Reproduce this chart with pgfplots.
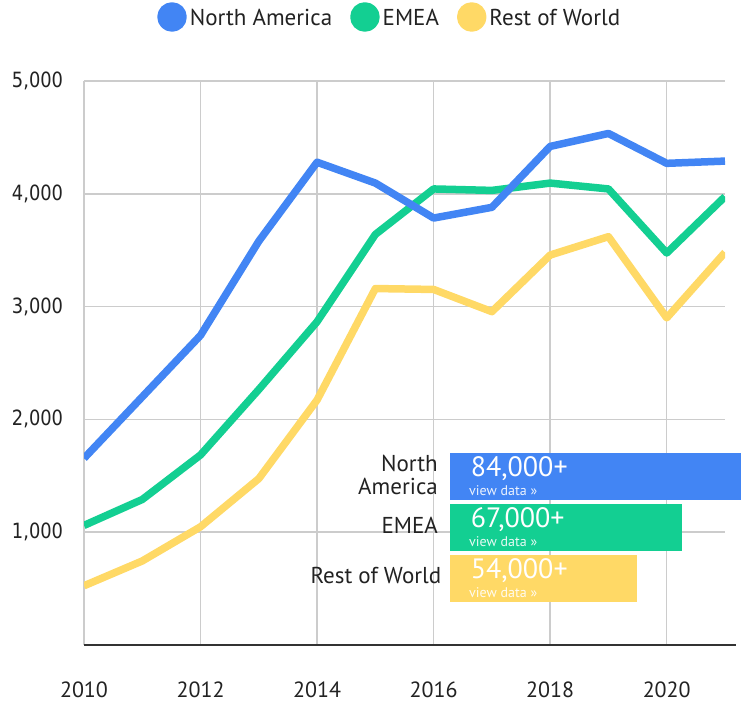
\documentclass[border=0pt]{standalone}
\usepackage{fontspec}
\usepackage{pgfplots}
\pgfplotsset{compat=1.18}
\setmainfont{PT Sans}
\newfontfamily\yfont[FakeStretch=0.85]{DejaVu Sans}
\definecolor{cNA}{HTML}{4285F4}
\definecolor{cEM}{HTML}{13CF92}
\definecolor{cRW}{HTML}{FFD966}
\definecolor{gridc}{HTML}{CCCCCC}
\definecolor{txt}{HTML}{222222}
\definecolor{basec}{HTML}{333333}

\begin{document}
\begin{tikzpicture}
\useasboundingbox (0,0) rectangle (741pt,703pt);
\begin{axis}[
  at={(84pt,58pt)}, anchor=south west,
  scale only axis, width=641pt, height=564pt,
  xmin=2010, xmax=2021, ymin=0, ymax=5000,
  xtick={2010,2012,...,2020}, ytick={1000,2000,3000,4000,5000},
  axis lines*=left,
  y axis line style={draw=none},
  x axis line style={draw=basec, line width=2pt, shorten >=-11pt},
  major tick length=0pt,
  grid=major,
  major grid style={gridc, line width=1.5pt},
  /pgf/number format/assume math mode=true,
  /pgf/number format/1000 sep={,},
  yticklabel style={font=\yfont\fontsize{21pt}{25pt}\selectfont, text=txt, inner sep=0pt, xshift=-20.7pt},
  xticklabel style={font=\fontsize{22pt}{26pt}\selectfont, text=txt, inner sep=0pt, yshift=-37pt, /pgf/number format/1000 sep={}},
  every axis plot/.append style={line width=7.5pt, line join=round},
  legend columns=-1,
  reverse legend,
  legend image code/.code={\fill[#1] (11pt,1pt) circle (11pt);},
  legend style={at={(0.114,1.1135)}, anchor=west, draw=none, fill=none, inner sep=0pt,
    font=\fontsize{23pt}{27pt}\selectfont, text=txt,
    /tikz/every even column/.append style={column sep=18pt},
    nodes={inner sep=0pt}},
]
\addplot[cRW] coordinates {(2010,525) (2011,745) (2012,1048) (2013,1475) (2014,2172) (2015,3160) (2016,3152) (2017,2955) (2018,3457) (2019,3620) (2020,2900) (2021,3480)};
\addlegendentry{\hspace{3pt}Rest of World}
\addplot[cEM] coordinates {(2010,1060) (2011,1290) (2012,1685) (2013,2265) (2014,2866) (2015,3640) (2016,4043) (2017,4030) (2018,4095) (2019,4043) (2020,3475) (2021,3975)};
\addlegendentry{\hspace{3pt}EMEA}
\addplot[cNA] coordinates {(2010,1655) (2011,2200) (2012,2745) (2013,3580) (2014,4280) (2015,4095) (2016,3785) (2017,3880) (2018,4420) (2019,4535) (2020,4270) (2021,4290)};
\addlegendentry{\hspace{3pt}North America}
\end{axis}

\begin{axis}[
  at={(450pt,99pt)}, anchor=south west,
  scale only axis, width=291pt, height=153pt,
  xmin=0, xmax=84000, ymin=-0.5, ymax=2.5,
  hide axis, clip=false,
  xbar, bar width=47pt, bar shift=0pt,
]
\addplot[fill=cNA, draw=none] coordinates {(84000,2)};
\addplot[fill=cEM, draw=none] coordinates {(67000,1)};
\addplot[fill=cRW, draw=none] coordinates {(54000,0)};

\node[anchor=base west, text=white, font=\fontsize{28pt}{30pt}\selectfont, inner sep=0pt, xshift=20.7pt, yshift=-0.4pt] at (axis cs:0,2) {84,000+};
\node[anchor=base west, text=white, font=\fontsize{28pt}{30pt}\selectfont, inner sep=0pt, xshift=20.7pt, yshift=-0.4pt] at (axis cs:0,1) {67,000+};
\node[anchor=base west, text=white, font=\fontsize{28pt}{30pt}\selectfont, inner sep=0pt, xshift=20.7pt, yshift=-0.4pt] at (axis cs:0,0) {54,000+};
\node[anchor=base west, text=white, opacity=0.9, font=\fontsize{14pt}{16pt}\selectfont, inner sep=0pt, xshift=19pt, yshift=-19.4pt] at (axis cs:0,2) {view data »};
\node[anchor=base west, text=white, opacity=0.9, font=\fontsize{14pt}{16pt}\selectfont, inner sep=0pt, xshift=19pt, yshift=-19.4pt] at (axis cs:0,1) {view data »};
\node[anchor=base west, text=white, opacity=0.9, font=\fontsize{14pt}{16pt}\selectfont, inner sep=0pt, xshift=19pt, yshift=-19.4pt] at (axis cs:0,0) {view data »};

\node[anchor=base east, text=txt, font=\fontsize{23pt}{27pt}\selectfont, inner sep=0pt, xshift=-12pt, yshift=4.8pt] at (axis cs:0,2) {North};
\node[anchor=base east, text=txt, font=\fontsize{23pt}{27pt}\selectfont, inner sep=0pt, xshift=-12pt, yshift=-17.8pt] at (axis cs:0,2) {America};
\node[anchor=base east, text=txt, font=\fontsize{23pt}{27pt}\selectfont, inner sep=0pt, xshift=-12pt, yshift=-5.8pt] at (axis cs:0,1) {EMEA};
\node[anchor=base east, text=txt, font=\fontsize{23pt}{27pt}\selectfont, inner sep=0pt, xshift=-8.5pt, yshift=-4.8pt] at (axis cs:0,0) {Rest of World};
\end{axis}
\end{tikzpicture}
\end{document}
